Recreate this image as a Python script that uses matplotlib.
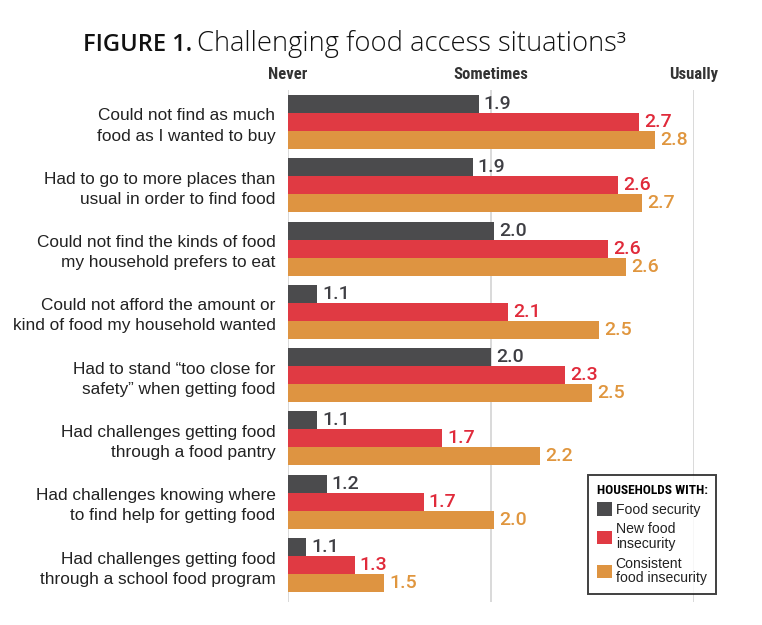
import matplotlib
matplotlib.use("Agg")
import matplotlib.pyplot as plt
from matplotlib import font_manager
from matplotlib.patches import Patch
from matplotlib.transforms import blended_transform_factory

# ---------------- data ----------------
categories = [
    "Could not find as much\nfood as I wanted to buy",
    "Had to go to more places than\nusual in order to find food",
    "Could not find the kinds of food\nmy household prefers to eat",
    "Could not afford the amount or\nkind of food my household wanted",
    "Had to stand \u201ctoo close for\nsafety\u201d when getting food",
    "Had challenges getting food\nthrough a food pantry",
    "Had challenges knowing where\nto find help for getting food",
    "Had challenges getting food\nthrough a school food program",
]
food_security = [1.94, 1.91, 2.015, 1.143, 2.0, 1.143, 1.192, 1.089]
new_insecurity = [2.73, 2.626, 2.576, 2.084, 2.365, 1.759, 1.670, 1.330]
consistent_insecurity = [2.81, 2.744, 2.665, 2.532, 2.498, 2.241, 2.015, 1.473]
food_security_labels = ["1.9", "1.9", "2.0", "1.1", "2.0", "1.1", "1.2", "1.1"]
new_insecurity_labels = ["2.7", "2.6", "2.6", "2.1", "2.3", "1.7", "1.7", "1.3"]
consistent_labels = ["2.8", "2.7", "2.6", "2.5", "2.5", "2.2", "2.0", "1.5"]
scale_ticks = [1, 2, 3]
scale_labels = ["Never", "Sometimes", "Usually"]
series_names = ["Food security", "New food\ninsecurity", "Consistent\nfood insecurity"]
legend_title = "HOUSEHOLDS WITH:"
title_bold = "FIGURE 1."
title_rest = "Challenging food access situations\u00b3"

# ---------------- style ----------------
names = {f.name for f in font_manager.fontManager.ttflist}
def pick(*cands):
    for c in cands:
        if c in names:
            return c
    return "DejaVu Sans"
narrow = pick("Liberation Sans Narrow", "Roboto Condensed", "Open Sans Condensed", "DejaVu Sans")
body = pick("Liberation Sans", "DejaVu Sans")
num = pick("Roboto", "Liberation Sans")
wide = pick("Open Sans", "DejaVu Sans")

c_dark = "#4b4b4d"
c_red = "#e03a43"
c_orange = "#de9441"
t_dark = "#3f3f44"
t_red = "#e02a3a"
t_orange = "#e0963e"
colors = [c_dark, c_red, c_orange]
tcolors = [t_dark, t_red, t_orange]

W, H = 762, 625
fig = plt.figure(figsize=(W / 100, H / 100), dpi=100)
fig.patch.set_facecolor("white")

ax_l, ax_r, ax_t, ax_b = 288, 694, 90, 602
ax = fig.add_axes([ax_l / W, 1 - ax_b / H, (ax_r - ax_l) / W, (ax_b - ax_t) / H])
pitch = 63.3
h = 18 / pitch
ax.set_xlim(1, 3)
ax.set_ylim(7 + (ax_b - 565) / pitch, -(122 - ax_t) / pitch)
for s in ax.spines.values():
    s.set_visible(False)
ax.set_xticks([])
for t in scale_ticks:
    ax.axvline(t, color="#cfcfcf", lw=1.1, zorder=0)

ys = list(range(len(categories)))
series = [food_security, new_insecurity, consistent_insecurity]
labels = [food_security_labels, new_insecurity_labels, consistent_labels]
offsets = [-h, 0, h]
for vals, labs, off, col, tcol in zip(series, labels, offsets, colors, tcolors):
    yy = [y + off for y in ys]
    ax.barh(yy, [v - 1 for v in vals], left=1, height=h, color=col, zorder=2)
    for y, v, lab in zip(yy, vals, labs):
        ax.annotate(lab, (v, y), xytext=(3.5, 0), textcoords="offset points",
                    ha="left", va="center", color=tcol, fontsize=14,
                    family=num, fontweight="medium", annotation_clip=False)

ax.set_yticks(ys)
ax.set_yticklabels(categories, fontsize=12.4, family=body, color="#222222",
                   linespacing=1.42)
ax.tick_params(axis="y", length=0, pad=9)
for lab in ax.get_yticklabels():
    lab.set_horizontalalignment("right")

trans = blended_transform_factory(ax.transData, ax.transAxes)
for t, lab in zip(scale_ticks, scale_labels):
    ax.text(t, 1 + 15 / (ax_b - ax_t), lab, transform=trans, ha="center",
            va="center", fontsize=12, fontweight="bold", family=narrow,
            color="#333333")

# legend
handles = [Patch(facecolor=c, edgecolor="none") for c in colors]
leg = fig.legend(handles, series_names, loc="upper left",
                 bbox_to_anchor=(588 / W, 1 - 475 / H), borderaxespad=0,
                 frameon=True, fancybox=False, title=legend_title,
                 alignment="left", prop={"family": body, "size": 10.1},
                 handlelength=1.1, handleheight=1.1, handletextpad=0.25,
                 labelspacing=0.4, borderpad=0.62)
leg.get_frame().set_edgecolor("#111111")
leg.get_frame().set_linewidth(1.4)
leg.get_title().set_fontweight("bold")
leg.get_title().set_fontfamily(narrow)
leg.get_title().set_fontsize(9.6)
for txt in leg.get_texts():
    txt.set_linespacing(1.05)
    txt.set_color("#222222")

# title
t1 = fig.text(83 / W, 1 - 51 / H, title_bold, fontsize=17, fontweight="semibold",
              family=wide, color="#111111", va="baseline", ha="left")
fig.canvas.draw()
r = fig.canvas.get_renderer()
bb = t1.get_window_extent(renderer=r)
fig.text((bb.x1 + 5) / W, 1 - 51 / H, title_rest, fontsize=19.7,
         family=wide, fontweight="light", color="#111111", va="baseline", ha="left")

fig.savefig("out.png", dpi=100, facecolor="white")
